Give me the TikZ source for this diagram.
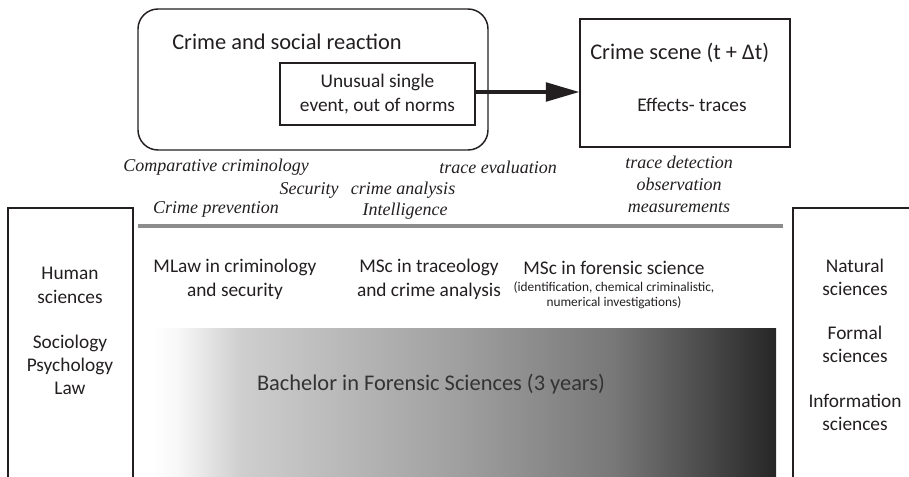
\documentclass[tikz,border=0pt]{standalone}
\usepackage{fontspec}
\setmainfont{Carlito}
\newfontfamily\itserif{Liberation Serif}
\usetikzlibrary{arrows.meta}
\pgfdeclarehorizontalshading{bachshade}{100bp}{color(0bp)=(white); color(25bp)=(white); color(27bp)=(white!97!black); color(32bp)=(black!19); color(50bp)=(black!38); color(62bp)=(black!53); color(75bp)=(black!85); color(100bp)=(black!85)}
\definecolor{txt}{HTML}{231F20}
\definecolor{rulegray}{HTML}{8C8C8C}
\tikzset{
  box/.style={draw=txt, line width=1.1pt, inner sep=0pt},
  lbl/.style={text=txt, font=\fontsize{14.5}{17.5}\selectfont, align=center, inner sep=0pt},
  big/.style={text=txt, font=\fontsize{16.8}{20}\selectfont, align=center, inner sep=0pt},
  small/.style={text=txt, font=\fontsize{10}{11.5}\selectfont, align=center, inner sep=0pt},
  itl/.style={text=txt, font=\itserif\itshape\fontsize{13.5}{16.5}\selectfont, align=center, inner sep=0pt},
}
\begin{document}
\begin{tikzpicture}[x=0.75pt,y=-0.75pt]
\useasboundingbox (0,0) rectangle (909,476);
% top boxes
\node[box, rounded corners=15pt, minimum width=262.5pt, minimum height=105.75pt] (crime) at (313,79.5) {};
\node[big, anchor=west] (crimet) at (172,42) {Crime and social reaction};
\node[box, minimum width=146.25pt, minimum height=46.5pt, lbl, draw=txt] (unusual) at (377.5,94) {Unusual single\\event, out of norms};
\node[box, minimum width=157.5pt, minimum height=96pt] (scene) at (685,83) {};
\node[big, anchor=west] (scenet) at (590,53) {Crime scene (t + Δt)};
\node[lbl] (effects) at (692,105) {Effects- traces};
\draw[txt, line width=2.4pt, -{Triangle[length=25pt, width=14pt]}] (unusual.east |- 0,92) -- (scene.west |- 0,92);
% italic labels
\node[itl] (comp) at (216,167) {Comparative criminology};
\node[itl] (sec) at (309,190) {Security};
\node[itl] (canal) at (403,190) {crime analysis};
\node[itl] (prev) at (216,209) {Crime prevention};
\node[itl] (intel) at (405,211) {Intelligence};
\node[itl] (teval) at (498,167) {trace evaluation};
\node[itl] (tdet) at (679,184.5) {trace detection\\observation\\measurements};
% gray rule
\coordinate (r1) at (138,226);
\coordinate (r2) at (783,226);
\draw[rulegray, line width=3pt] (r1) -- (r2);
% side boxes
\draw[txt, line width=1.1pt] (8,480) -- (8,208) -- (133,208) -- (133,480);
\draw[txt, line width=1.1pt] (793,480) -- (793,208) -- (915,208);
\node[lbl] (human) at (70,285.5) {Human\\sciences};
\node[lbl] (socio) at (70,365) {Sociology\\Psychology\\Law};
\node[lbl] (natural) at (855,277.5) {Natural\\sciences};
\node[lbl] (formal) at (855,344.5) {Formal\\sciences};
\node[lbl] (info) at (855,412.5) {Information\\sciences};
% masters
\node[lbl] (mlaw) at (235,279.5) {MLaw in criminology\\and security};
\node[lbl] (msct) at (429,279.5) {MSc in traceology\\and crime analysis};
\node[lbl] (mscf) at (614,268) {MSc in forensic science};
\node[small] (mscfs) at (614,295.5) {(identification, chemical criminalistic,\\numerical investigations)};
% bachelor gradient
\shade[shading=bachshade] (153,328) rectangle (776,480);
\node[big, text=black!80] (bach) at (431,384) {Bachelor in Forensic Sciences (3 years)};
\end{tikzpicture}
\end{document}
